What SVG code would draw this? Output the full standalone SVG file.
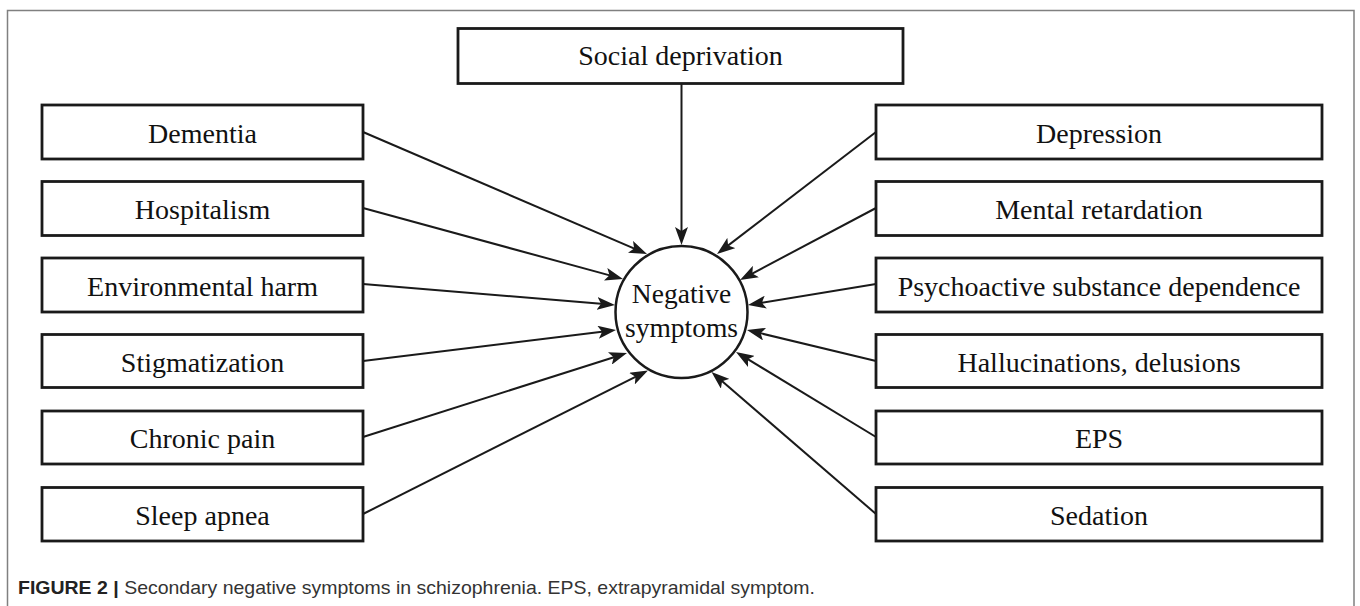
<svg xmlns="http://www.w3.org/2000/svg" width="1360" height="606" viewBox="0 0 1360 606">
<style>
.box{fill:#fff;stroke:#1a1a1a;stroke-width:2.8}
.lbl{font-family:"Liberation Serif","Times New Roman",serif;font-size:28px;fill:#111;text-anchor:middle}
.ctr{font-family:"Liberation Serif","Times New Roman",serif;font-size:27.5px;fill:#111;text-anchor:middle}
.edge{stroke:#1a1a1a;stroke-width:2;fill:none;marker-end:url(#ah)}
.cap{font-family:"Liberation Sans",Arial,sans-serif;font-size:18.5px;fill:#333}
</style>
<defs>
<marker id="ah" markerUnits="userSpaceOnUse" markerWidth="18" markerHeight="13" refX="10" refY="6.5" orient="auto">
<path d="M0,0 L18,6.5 L0,13 L4,6.5 Z" fill="#1a1a1a"/>
</marker>
</defs>
<rect width="1360" height="606" fill="#fff"/>
<path d="M7.5,606 V10.5 H1354 V606" fill="none" stroke="#808080" stroke-width="1.5"/>

<g id="connectors">
<line class="edge" x1="363" y1="132" x2="639.65" y2="250.84"/>
<line class="edge" x1="681.5" y1="84" x2="681.5" y2="237"/>
<line class="edge" x1="876" y1="132" x2="723.35" y2="249.13"/>
<line class="edge" x1="363" y1="208" x2="615.28" y2="276.89"/>
<line class="edge" x1="876" y1="208" x2="747.07" y2="276.26"/>
<line class="edge" x1="363" y1="284" x2="607.03" y2="304.34"/>
<line class="edge" x1="876" y1="284" x2="755.9" y2="303.7"/>
<line class="edge" x1="363" y1="361" x2="608.06" y2="330.97"/>
<line class="edge" x1="876" y1="361" x2="754.78" y2="331.87"/>
<line class="edge" x1="363" y1="437" x2="619.38" y2="355.43"/>
<line class="edge" x1="876" y1="437" x2="742.84" y2="356.15"/>
<line class="edge" x1="363" y1="514" x2="640.86" y2="374.1"/>
<line class="edge" x1="876" y1="514" x2="717.56" y2="377.23"/>
</g>

<g id="n-social"><rect class="box" x="458" y="28.5" width="445" height="55"/><text class="lbl" x="680.5" y="65">Social deprivation</text></g>

<g id="n-dementia"><rect class="box" x="42" y="105" width="321" height="54"/><text class="lbl" x="202.5" y="142.5">Dementia</text></g>
<g id="n-hospitalism"><rect class="box" x="42" y="181.5" width="321" height="54"/><text class="lbl" x="202.5" y="219">Hospitalism</text></g>
<g id="n-environmental"><rect class="box" x="42" y="258" width="321" height="54"/><text class="lbl" x="202.5" y="295.5">Environmental harm</text></g>
<g id="n-stigmatization"><rect class="box" x="42" y="334.5" width="321" height="53"/><text class="lbl" x="202.5" y="371.5">Stigmatization</text></g>
<g id="n-chronic"><rect class="box" x="42" y="411" width="321" height="53"/><text class="lbl" x="202.5" y="448">Chronic pain</text></g>
<g id="n-sleep"><rect class="box" x="42" y="487.5" width="321" height="53.5"/><text class="lbl" x="202.5" y="524.5">Sleep apnea</text></g>

<g id="n-depression"><rect class="box" x="876" y="105" width="446" height="54"/><text class="lbl" x="1099" y="142.5">Depression</text></g>
<g id="n-mental"><rect class="box" x="876" y="181.5" width="446" height="54"/><text class="lbl" x="1099" y="219">Mental retardation</text></g>
<g id="n-psychoactive"><rect class="box" x="876" y="258" width="446" height="54"/><text class="lbl" x="1099" y="295.5">Psychoactive substance dependence</text></g>
<g id="n-hallucinations"><rect class="box" x="876" y="334.5" width="446" height="53"/><text class="lbl" x="1099" y="371.5">Hallucinations, delusions</text></g>
<g id="n-eps"><rect class="box" x="876" y="411" width="446" height="53"/><text class="lbl" x="1099" y="448">EPS</text></g>
<g id="n-sedation"><rect class="box" x="876" y="487.5" width="446" height="53.5"/><text class="lbl" x="1099" y="524.5">Sedation</text></g>

<g id="n-negative"><circle cx="681.5" cy="312" r="66" fill="#fff" stroke="#1a1a1a" stroke-width="2.5"/><text class="ctr" x="681.5" y="303">Negative</text><text class="ctr" x="681.5" y="337">symptoms</text></g>

<text class="cap" x="18" y="594" textLength="797" lengthAdjust="spacingAndGlyphs"><tspan font-weight="bold" fill="#222">FIGURE 2 |</tspan> Secondary negative symptoms in schizophrenia. EPS, extrapyramidal symptom.</text>
</svg>
